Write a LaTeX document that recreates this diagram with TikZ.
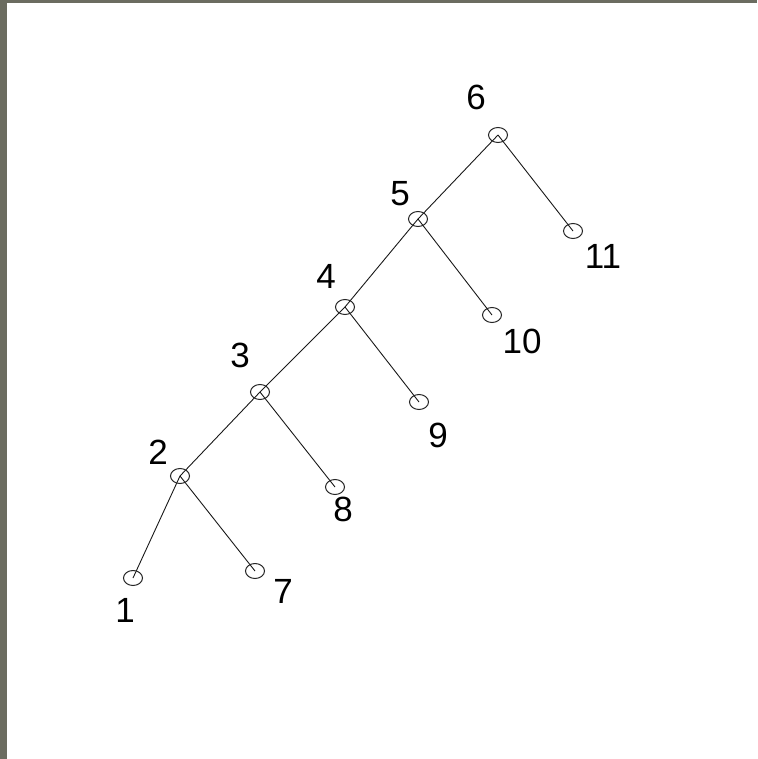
\documentclass[tikz,border=0pt]{standalone}
\usepackage{fontspec}
\setmainfont{Liberation Sans}
\usetikzlibrary{shapes.geometric}
\definecolor{frame}{RGB}{107,108,96}
\begin{document}
\begin{tikzpicture}[x=1pt,y=-1pt,
  vtx/.style={ellipse,draw=black!85,line width=1pt,minimum width=19pt,minimum height=15pt,inner sep=0pt},
  lbl/.style={font=\fontsize{35}{35}\selectfont,inner sep=0pt},
  edge/.style={draw=black!90,line width=0.9pt}]
\fill[white] (0,0) rectangle (757,759);
\useasboundingbox (0,0) rectangle (757,759);
\fill[frame] (0,0) rectangle (7,759);
\fill[frame] (0,0) rectangle (757,3);
% vertex positions
\coordinate (c1) at (133,578);
\coordinate (c2) at (180,476);
\coordinate (c3) at (260,392);
\coordinate (c4) at (345,307);
\coordinate (c5) at (418,219);
\coordinate (c6) at (498,135);
\coordinate (c7) at (255,571);
\coordinate (c8) at (335,487);
\coordinate (c9) at (419,402);
\coordinate (c10) at (492,315);
\coordinate (c11) at (573,231);
% edges
\draw[edge] (c6) -- (c5);
\draw[edge] (c6) -- (c11);
\draw[edge] (c5) -- (c4);
\draw[edge] (c5) -- (c10);
\draw[edge] (c4) -- (c3);
\draw[edge] (c4) -- (c9);
\draw[edge] (c3) -- (c2);
\draw[edge] (c3) -- (c8);
\draw[edge] (c2) -- (c1);
\draw[edge] (c2) -- (c7);
% vertices
\foreach \i in {1,...,11} \node[vtx] (n\i) at (c\i) {};
% labels
\node[lbl] (t1) at (125,610) {1};
\node[lbl] (t2) at (158,452) {2};
\node[lbl] (t3) at (240,355) {3};
\node[lbl] (t4) at (326,276) {4};
\node[lbl] (t5) at (400,194) {5};
\node[lbl] (t6) at (476,97) {6};
\node[lbl] (t7) at (283,591) {7};
\node[lbl] (t8) at (343,509) {8};
\node[lbl] (t9) at (438,435) {9};
\node[lbl] (t10) at (522,341) {10};
\node[lbl] (t11) at (603,256) {11};
\end{tikzpicture}
\end{document}
